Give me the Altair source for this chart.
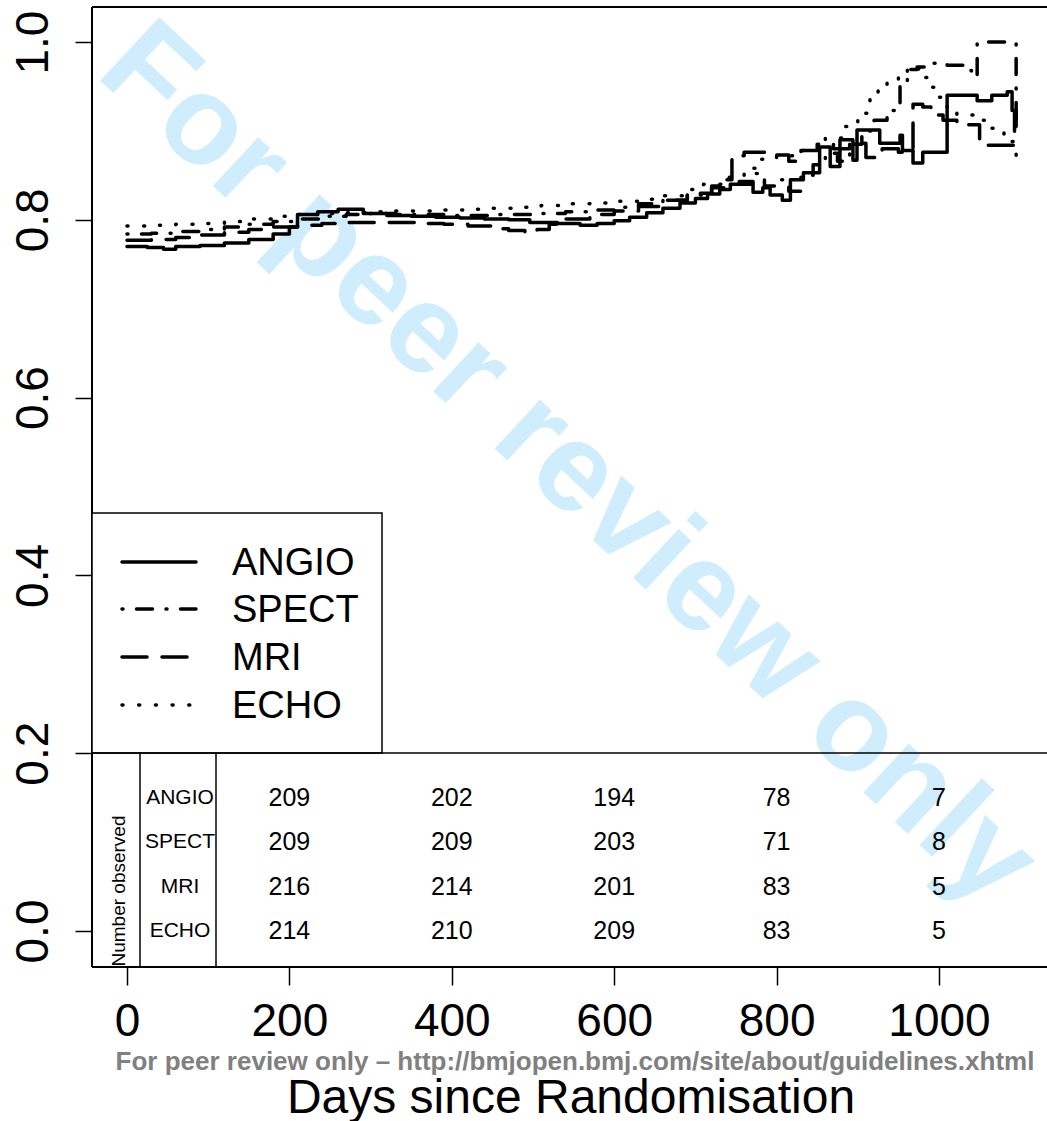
import altair as alt
import pandas as pd

FONT = "Liberation Sans"

# ---------------- data ----------------
angio_days = [0, 25, 45, 60, 90, 120, 150, 180, 200, 210, 235, 260, 291, 320, 350, 380, 410, 440, 470,
              496, 530, 558, 579, 600, 619, 640, 660, 681, 700, 715, 730, 743, 754, 771, 783, 792, 807,
              817, 833, 853, 866, 878, 894, 899, 927, 952, 955, 968, 980, 1010, 1047, 1065, 1084, 1090,
              1095]
angio_surv = [0.770, 0.769, 0.767, 0.770, 0.771, 0.774, 0.778, 0.784, 0.792, 0.806, 0.809, 0.812, 0.807,
              0.805, 0.804, 0.803, 0.802, 0.801, 0.800, 0.797, 0.796, 0.794, 0.796, 0.799, 0.803, 0.808,
              0.813, 0.819, 0.824, 0.829, 0.834, 0.840, 0.843, 0.831, 0.836, 0.828, 0.822, 0.845, 0.853,
              0.882, 0.860, 0.890, 0.867, 0.901, 0.886, 0.895, 0.878, 0.864, 0.876, 0.940, 0.934, 0.940,
              0.944, 0.923, 0.905]

spect_days = [0, 30, 60, 90, 120, 150, 180, 210, 240, 270, 300, 330, 360, 390, 420, 450, 480, 510, 540,
              570, 600, 630, 660, 690, 720, 740, 755, 770, 785, 800, 815, 830, 845, 860, 875, 890, 905,
              920, 936, 952, 961, 973, 985, 1010, 1030, 1040, 1047, 1094, 1095]
spect_surv = [0.784, 0.785, 0.787, 0.789, 0.792, 0.795, 0.798, 0.801, 0.804, 0.806, 0.807, 0.806, 0.806,
              0.805, 0.805, 0.806, 0.806, 0.807, 0.809, 0.811, 0.814, 0.818, 0.822, 0.828, 0.836, 0.846,
              0.840, 0.852, 0.838, 0.845, 0.832, 0.850, 0.862, 0.875, 0.866, 0.885, 0.900, 0.912, 0.923,
              0.954, 0.969, 0.972, 0.976, 0.974, 0.968, 0.961, 1.0, 1.0, 0.91]

mri_days = [0, 30, 60, 90, 120, 150, 180, 210, 240, 270, 300, 330, 360, 390, 420, 450, 470, 490, 505,
            520, 540, 570, 600, 630, 660, 690, 720, 735, 745, 760, 800, 815, 830, 850, 870, 890, 910,
            930, 950, 968, 980, 990, 1005, 1022, 1050, 1090, 1093, 1095]
mri_surv = [0.777, 0.778, 0.780, 0.783, 0.786, 0.789, 0.792, 0.794, 0.796, 0.797, 0.797, 0.797, 0.796,
            0.795, 0.793, 0.790, 0.788, 0.786, 0.789, 0.795, 0.801, 0.806, 0.810, 0.815, 0.822, 0.830,
            0.838, 0.845, 0.872, 0.876, 0.873, 0.866, 0.878, 0.885, 0.880, 0.886, 0.870, 0.880, 0.876,
            0.930, 0.927, 0.918, 0.912, 0.907, 0.884, 0.884, 0.920, 0.905]

echo_days = [0, 30, 60, 90, 120, 150, 180, 210, 240, 270, 300, 330, 360, 390, 420, 450, 480, 510, 540,
             570, 600, 630, 660, 690, 710, 740, 760, 780, 800, 820, 840, 860, 880, 900, 915, 925, 936,
             950, 961, 975, 989, 997, 1010, 1022, 1045, 1063, 1080, 1090, 1093, 1095]
echo_surv = [0.793, 0.794, 0.795, 0.796, 0.798, 0.801, 0.804, 0.806, 0.807, 0.808, 0.809, 0.810, 0.810,
             0.811, 0.812, 0.813, 0.814, 0.816, 0.818, 0.819, 0.821, 0.823, 0.827, 0.834, 0.840, 0.848,
             0.858, 0.868, 0.872, 0.878, 0.880, 0.892, 0.905, 0.920, 0.938, 0.946, 0.954, 0.965, 0.972,
             0.960, 0.949, 0.938, 0.925, 0.918, 0.912, 0.903, 0.895, 0.888, 0.877, 0.858]

modalities = ["ANGIO", "SPECT", "MRI", "ECHO"]
count_days = [200, 400, 600, 800, 1000]
n_angio = [209, 202, 194, 78, 7]
n_spect = [209, 209, 203, 71, 8]
n_mri = [216, 214, 201, 83, 5]
n_echo = [214, 210, 209, 83, 5]

x_ticks = [0, 200, 400, 600, 800, 1000]
y_ticks = [0.0, 0.2, 0.4, 0.6, 0.8, 1.0]

# ---------------- styling ----------------
W, H = 955, 960
LW = 3.5
dashes = {
    "ANGIO": [1, 0],
    "SPECT": [1, 13.5, 16, 13.5],
    "MRI": [25, 15],
    "ECHO": [1, 15.7],
}

xscale = alt.Scale(domain=[-43.1, 1133], nice=False, zero=False)
yscale = alt.Scale(domain=[-0.0405, 1.0394], nice=False, zero=False)

xaxis = alt.Axis(values=x_ticks, format="d", title=None, grid=False, domain=False, tickSize=18,
                 tickWidth=1.5, tickColor="black", labelFontSize=46, labelFont=FONT,
                 labelColor="black", labelPadding=14, labelBaseline="top", labelAlign="center",
                 labelFlush=False, labelOverlap=False)
yaxis = alt.Axis(values=y_ticks, format=".1f", title=None, grid=False, domain=False, tickSize=17,
                 tickWidth=1.5, tickColor="black", labelFontSize=46, labelFont=FONT,
                 labelColor="black", labelAngle=270, labelAlign="center",
                 labelBaseline="alphabetic", labelPadding=28, labelFlush=False, labelOverlap=False)

layers = []

# watermark
layers.append(
    alt.Chart(pd.DataFrame({"t": ["For peer review only"]})).mark_text(
        font=FONT, fontSize=126, fontWeight="bold", angle=43, color="#cfedfc",
        align="center", baseline="middle"
    ).encode(x=alt.value(476), y=alt.value(458), text="t:N")
)

series = [("ANGIO", angio_days, angio_surv), ("SPECT", spect_days, spect_surv),
          ("MRI", mri_days, mri_surv), ("ECHO", echo_days, echo_surv)]
for name, d, s in series:
    df = pd.DataFrame({"day": d, "surv": s})
    layers.append(
        alt.Chart(df).mark_line(interpolate="step-after", color="black", strokeWidth=LW,
                                strokeDash=dashes[name], strokeCap="round", strokeJoin="round")
        .encode(x=alt.X("day:Q", scale=xscale, axis=xaxis),
                y=alt.Y("surv:Q", scale=yscale, axis=yaxis))
    )

# frame (left, top, bottom)
frame = pd.DataFrame({"k": [0]})
layers.append(alt.Chart(frame).mark_rule(color="black", strokeWidth=2).encode(
    x=alt.value(0), y=alt.value(0), y2=alt.value(H)))
layers.append(alt.Chart(frame).mark_rule(color="black", strokeWidth=2).encode(
    x=alt.value(0), x2=alt.value(W), y=alt.value(0)))
layers.append(alt.Chart(frame).mark_rule(color="black", strokeWidth=2).encode(
    x=alt.value(0), x2=alt.value(W), y=alt.value(H)))

# legend box
layers.append(alt.Chart(frame).mark_rect(fill="white", stroke="black", strokeWidth=1.5).encode(
    x=alt.value(0), x2=alt.value(290), y=alt.value(506), y2=alt.value(746)))
leg_rows = [555, 602, 650, 698]
for name, yy in zip(modalities, leg_rows):
    layers.append(alt.Chart(frame).mark_rule(color="black", strokeWidth=LW, strokeDash=dashes[name],
                                             strokeCap="round").encode(
        x=alt.value(30), x2=alt.value(104), y=alt.value(yy)))
    layers.append(alt.Chart(pd.DataFrame({"t": [name]})).mark_text(
        font=FONT, fontSize=38, align="left", baseline="middle", color="black", dy=2).encode(
        x=alt.value(140), y=alt.value(yy), text="t:N"))

# table lines
layers.append(alt.Chart(frame).mark_rule(color="black", strokeWidth=1.5).encode(
    x=alt.value(0), x2=alt.value(W), y=alt.value(746)))
for xv in [48, 124]:
    layers.append(alt.Chart(frame).mark_rule(color="black", strokeWidth=1.5).encode(
        x=alt.value(xv), y=alt.value(746), y2=alt.value(H)))

# table numbers
rows = []
counts = [n_angio, n_spect, n_mri, n_echo]
for i, (m, c) in enumerate(zip(modalities, counts)):
    for d, n in zip(count_days, c):
        rows.append({"day": d, "row": 0.15 - 0.05 * i, "n": str(n), "mod": m})
tab = pd.DataFrame(rows)
layers.append(alt.Chart(tab).mark_text(font=FONT, fontSize=25, align="center", baseline="middle",
                                        color="black").encode(
    x=alt.X("day:Q", scale=xscale, axis=xaxis),
    y=alt.Y("row:Q", scale=yscale, axis=yaxis),
    text="n:N"))
lab = pd.DataFrame({"mod": modalities, "row": [0.15 - 0.05 * i for i in range(4)]})
layers.append(alt.Chart(lab).mark_text(font=FONT, fontSize=21, align="center", baseline="middle",
                                        color="black").encode(
    x=alt.value(88), y=alt.Y("row:Q", scale=yscale, axis=yaxis), text="mod:N"))
layers.append(alt.Chart(pd.DataFrame({"t": ["Number observed"]})).mark_text(
    font=FONT, fontSize=19, angle=270, align="center", baseline="middle", color="black").encode(
    x=alt.value(27), y=alt.value(884), text="t:N"))

# footer and x title
layers.append(alt.Chart(pd.DataFrame({"t": ["For peer review only \u2013 http://bmjopen.bmj.com/site/about/guidelines.xhtml"]})).mark_text(
    font=FONT, fontSize=26, fontWeight="bold", align="center", baseline="alphabetic",
    color="#808080").encode(x=alt.value(483), y=alt.value(1063), text="t:N"))
layers.append(alt.Chart(pd.DataFrame({"t": ["Days since Randomisation"]})).mark_text(
    font=FONT, fontSize=48, align="center", baseline="alphabetic", color="black").encode(
    x=alt.value(479), y=alt.value(1106), text="t:N"))

chart = alt.layer(*layers).properties(
    width=W, height=H,
    autosize=alt.AutoSizeParams(type="none"),
    padding={"left": 92, "top": 7, "right": 0, "bottom": 154},
).configure_view(stroke=None).configure(background="white")

chart.save("out.html", embed_options={"renderer": "svg", "actions": False})
